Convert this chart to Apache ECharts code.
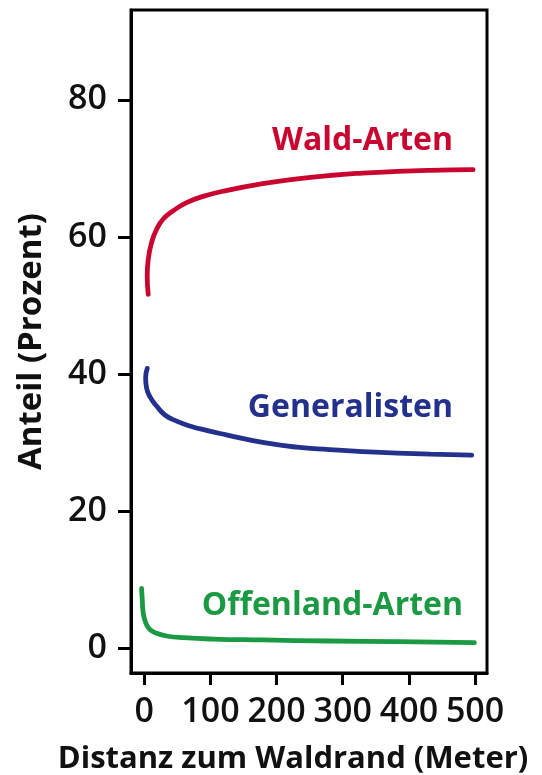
<!DOCTYPE html>
<html>
<head>
<meta charset="utf-8">
<script src="https://cdn.jsdelivr.net/npm/echarts@6/dist/echarts.min.js"></script>
<style>
html,body{margin:0;padding:0;background:#fff;}
#chart{width:542px;height:775px;}
</style>
</head>
<body>
<div id="chart"></div>
<script>
// Data
var xTicks = [0, 100, 200, 300, 400, 500];
var yTicks = [0, 20, 40, 60, 80];

var waldDist = [6, 4.5, 6, 11.2, 18.7, 28.7, 43.8, 64, 89, 119, 179, 231, 280, 330, 382, 432, 497];
var waldVals = [51.6, 54.3, 56.7, 59.2, 61.1, 62.6, 63.8, 65.0, 65.9, 66.65, 67.75, 68.45, 68.95, 69.3, 69.55, 69.7, 69.8];

var genDist = [4.5, 2.1, 3.6, 9.7, 18.7, 31.3, 49, 69, 94, 124, 179, 231, 280, 330, 382, 432, 495];
var genVals = [40.8, 39.4, 37.9, 36.5, 35.3, 34.0, 33.1, 32.4, 31.75, 31.1, 30.0, 29.3, 28.95, 28.65, 28.45, 28.3, 28.15];

var offDist = [-4, -3, -1.5, 2.6, 8.6, 18.7, 33.8, 59, 104, 179, 280, 382, 499];
var offVals = [8.7, 7.0, 5.1, 3.6, 2.7, 2.15, 1.75, 1.5, 1.3, 1.17, 1.02, 0.92, 0.77];

var seriesNames = ['Wald-Arten', 'Generalisten', 'Offenland-Arten'];
var colors = ['#c8062f', '#23318c', '#1b9a43'];

function pairs(xs, ys) {
  return xs.map(function (x, i) { return [x, ys[i]]; });
}

var FONT = '"Open Sans", sans-serif';
var chart = echarts.init(document.getElementById('chart'));
chart.setOption({
  animation: false,
  grid: {
    left: 131, right: 55, top: 10, bottom: 102,
    outerBoundsMode: 'none', containLabel: false,
    show: true, borderColor: '#000', borderWidth: 3, backgroundColor: 'transparent'
  },
  xAxis: {
    type: 'value', min: -20, max: 518,
    name: 'Distanz zum Waldrand (Meter)',
    nameLocation: 'middle', nameGap: 71,
    nameTextStyle: { fontFamily: FONT, fontWeight: 700, fontSize: 31, color: '#111', padding: [0, 32, 0, 0] },
    axisLine: { show: true, onZero: false, lineStyle: { color: '#000', width: 3 } },
    axisTick: { show: true, customValues: xTicks, length: 12, lineStyle: { color: '#000', width: 3 } },
    axisLabel: { customValues: xTicks, fontFamily: FONT, fontWeight: 600, fontSize: 34, color: '#111', margin: 22 },
    splitLine: { show: false }
  },
  yAxis: {
    type: 'value', min: -3.65, max: 93.1,
    name: 'Anteil (Prozent)',
    nameLocation: 'middle', nameGap: 83, nameRotate: 90,
    nameTextStyle: { fontFamily: FONT, fontWeight: 700, fontSize: 33, color: '#111' },
    axisLine: { show: true, onZero: false, lineStyle: { color: '#000', width: 3 } },
    axisTick: { show: true, customValues: yTicks, length: 13, lineStyle: { color: '#000', width: 3 } },
    axisLabel: { customValues: yTicks, fontFamily: FONT, fontWeight: 600, fontSize: 34, color: '#111', margin: 24 },
    splitLine: { show: false }
  },
  series: [
    { name: seriesNames[0], type: 'line', data: pairs(waldDist, waldVals) },
    { name: seriesNames[1], type: 'line', data: pairs(genDist, genVals) },
    { name: seriesNames[2], type: 'line', data: pairs(offDist, offVals) }
  ].map(function (s, i) {
    s.smooth = 0.5;
    s.showSymbol = false;
    s.symbol = 'none';
    s.lineStyle = { color: colors[i], width: 4.8, cap: 'round', join: 'round' };
    s.itemStyle = { color: colors[i] };
    return s;
  }),
  graphic: [
    { type: 'text', x: 453, y: 141, style: { text: seriesNames[0], fill: colors[0], font: '700 32px ' + FONT, align: 'right', verticalAlign: 'middle' } },
    { type: 'text', x: 453, y: 408, style: { text: seriesNames[1], fill: colors[1], font: '700 32px ' + FONT, align: 'right', verticalAlign: 'middle' } },
    { type: 'text', x: 463, y: 606, style: { text: seriesNames[2], fill: colors[2], font: '700 32px ' + FONT, align: 'right', verticalAlign: 'middle' } }
  ]
});
</script>
</body>
</html>
